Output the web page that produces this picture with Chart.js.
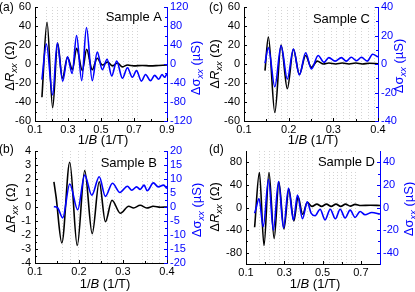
<!DOCTYPE html>
<html><head><meta charset="utf-8">
<script src="https://cdn.jsdelivr.net/npm/chart.js@4.4.0/dist/chart.umd.min.js"></script>
<style>
html,body{margin:0;padding:0;background:#fff;width:415px;height:292px;overflow:hidden}
#wrap{position:relative;width:415px;height:292px}
canvas{position:absolute;left:0;top:0}
</style>
</head><body><div id="wrap"></div>
<script>
// ================= DATA =================
// Panel (a) Sample A
const A_R_X = [0.142,0.173,0.207,0.237,0.266,0.297,0.327,0.352,0.387,0.413,0.447,0.477,0.508,0.54,0.57,0.6,0.63,0.66,0.7,0.75,0.8,0.85,0.9];
const A_R_Y = [-35,44,-46,22,-15,7,-6,16.5,-7,15.5,-6,6,-1,2,-2,1,-3,-1,-2,-1.5,-2,-1.5,-1];
const A_S_X = [0.142,0.169,0.207,0.235,0.268,0.297,0.325,0.352,0.383,0.412,0.447,0.477,0.508,0.537,0.565,0.595,0.63,0.66,0.69,0.715,0.745,0.77,0.8,0.825,0.85,0.87,0.885,0.9];
const A_S_Y = [-33,42,-65,44,-36,15,-20,60,-35,77,-35,25,-12,10,-25,6,-30,-8,-28,-14,-36,-22,-35,-24,-32,-22,-28,-20];
const A_LINES = [0.168,0.203,0.235,0.265,0.298,0.33,0.36,0.391,0.421,0.452,0.48,0.51,0.538,0.568,0.599,0.632,0.662,0.69,0.717];
const A_XTICKS = [0.1,0.3,0.5,0.7,0.9];
const A_LTICKS = [-60,-40,-20,0,20,40,60];
const A_RTICKS = [-120,-80,-40,0,40,80,120];

// Panel (b) Sample B
const B_R_X = [0.143,0.148,0.161,0.179,0.196,0.213,0.23,0.246,0.26,0.275,0.294,0.313,0.324,0.339,0.354,0.369,0.385,0.4];
const B_R_Y = [1.8,0.7,-2.56,3.2,-2.75,2.6,-1.9,1.8,-1.05,0.48,-0.45,0.05,-0.07,0.12,-0.07,0.05,-0.02,0];
const B_S_X = [0.143,0.152,0.163,0.179,0.197,0.213,0.229,0.246,0.26,0.276,0.293,0.31,0.32,0.331,0.339,0.348,0.355,0.369,0.38,0.392,0.4];
const B_S_Y = [0.2,-0.4,-3.9,8.2,-1,11.4,4.2,10.8,3.8,8.5,5.2,7.4,6.0,7.2,6.3,7.8,5.8,8.6,7.2,7.8,6.6];
const B_LINES = [0.162,0.18,0.197,0.214,0.23,0.247,0.263,0.279,0.296,0.343,0.355,0.367,0.381];
const B_XTICKS = [0.1,0.2,0.3,0.4];
const B_LTICKS = [-4,-3,-2,-1,0,1,2,3,4];
const B_RTICKS = [-20,-15,-10,-5,0,5,10,15,20];

// Panel (c) Sample C
const C_R_X = [0.147,0.1546,0.169,0.183,0.197,0.2106,0.224,0.238,0.2507,0.264,0.278,0.29,0.305,0.32,0.335,0.35,0.365,0.38,0.4];
const C_R_Y = [-7,28.5,-51,20,-26,15.5,-11,9,-3.5,3,0,1,0,1,0,1,0,0.8,0.3];
const C_S_X = [0.147,0.1546,0.169,0.183,0.197,0.2106,0.224,0.238,0.251,0.266,0.279,0.29,0.304,0.318,0.329,0.34,0.352,0.363,0.376,0.388,0.4];
const C_S_Y = [0.5,11.4,-16,12.8,-10.5,10.5,-7.7,7.9,-3.5,6,1.2,4.5,2,4.5,2,4.7,2.3,4.7,2,6.8,5];
const C_LINES = [0.1546,0.1694,0.1828,0.1972,0.2106,0.224,0.2381,0.252,0.266,0.28,0.294,0.307,0.321,0.335,0.349,0.363,0.377,0.391];
const C_XTICKS = [0.1,0.2,0.3,0.4];
const C_LTICKS = [-60,-40,-20,0,20,40,60];
const C_RTICKS = [-40,-20,0,20,40];

// Panel (d) Sample D
const D_R_X = [0.145,0.17,0.194,0.22,0.247,0.272,0.298,0.324,0.35,0.372,0.396,0.42,0.445,0.47,0.495,0.52,0.545,0.57,0.595,0.62,0.645,0.67,0.7,0.75,0.8];
const D_R_Y = [-35,62,-67,62,-55,45,-38,32,-24,19,-12,9,2,6,2,6,2,6,2,6,2.5,5.5,3.5,4,3.5];
const D_S_X = [0.145,0.152,0.168,0.19,0.218,0.243,0.27,0.296,0.322,0.348,0.369,0.395,0.42,0.44,0.461,0.487,0.513,0.54,0.567,0.592,0.618,0.644,0.67,0.696,0.722,0.757,0.8];
const D_S_Y = [-5,-1,8,-17,25,-20,23,-18,17,-11,11,-10,5,-5,-7.3,-1.5,-11,-1.5,-10,-1.5,-9.3,-2.3,-8.8,-3.5,-6.4,-4.4,-5.8];
const D_LINES = [0.169,0.195,0.221,0.247,0.273,0.3,0.322,0.348,0.37,0.395,0.421,0.445,0.506,0.532,0.553,0.576,0.598,0.624,0.649,0.671];
const D_XTICKS = [0.1,0.3,0.5,0.7];
const D_LTICKS = [-80,-40,0,40,80];
const D_RTICKS = [-40,-20,0,20,40];

// ================= STYLE / LAYOUT =================
const FONT = '"Liberation Sans", Arial, Helvetica, sans-serif';
const BLUE = '#0000ff';
const YL_TITLE = [{t:'\u0394'},{t:'R',it:1},{t:'xx',it:1,sub:1},{t:' (\u03A9)'}];
const YR_TITLE = [{t:'\u0394\u03C3'},{t:'xx',it:1,sub:1},{t:' (\u00B5S)'}];
const X_TITLE = [{t:'1/'},{t:'B',it:1},{t:' (1/T)'}];

const PANELS = [
  {id:'a', tag:'(a)', sample:'Sample A', area:{l:35,r:167,t:7,b:121},
   x:[0.1,0.9], yl:[-60,60], yr:[-120,120], xt:A_XTICKS, lt:A_LTICKS, rt:A_RTICKS,
   rx:A_R_X, ry:A_R_Y, sx:A_S_X, sy:A_S_Y, lines:A_LINES,
   pos:{tag:[-1,8], sample:[162,16], yl:[9,66], yr:[195,68], xt:[103,139]}},
  {id:'c', tag:'(c)', sample:'Sample C', area:{l:244,r:378,t:7,b:121},
   x:[0.1,0.4], yl:[-60,60], yr:[-40,40], xt:C_XTICKS, lt:C_LTICKS, rt:C_RTICKS,
   rx:C_R_X, ry:C_R_Y, sx:C_S_X, sy:C_S_Y, lines:C_LINES,
   pos:{tag:[209,8], sample:[370,18], yl:[214,64], yr:[398,66], xt:[313,139]}},
  {id:'b', tag:'(b)', sample:'Sample B', area:{l:35,r:167,t:151,b:263},
   x:[0.1,0.4], yl:[-4,4], yr:[-20,20], xt:B_XTICKS, lt:B_LTICKS, rt:B_RTICKS,
   rx:B_R_X, ry:B_R_Y, sx:B_S_X, sy:B_S_Y, lines:B_LINES,
   pos:{tag:[-1,150], sample:[157,162], yl:[10,208], yr:[196,210], xt:[105,283]}},
  {id:'d', tag:'(d)', sample:'Sample D', area:{l:246,r:380,t:151,b:264},
   x:[0.1,0.8], yl:[-100,100], yr:[-50,50], xt:D_XTICKS, lt:D_LTICKS, rt:D_RTICKS,
   rx:D_R_X, ry:D_R_Y, sx:D_S_X, sy:D_S_Y, lines:D_LINES,
   pos:{tag:[209,150], sample:[375,161], yl:[214,207], yr:[408,209], xt:[315,283]}}
];

Chart.defaults.font.family = FONT;

function zip(xs, ys){ return xs.map((x,i)=>({x:x, y:ys[i]})); }
function mids(a){ const m=[]; for(let i=0;i<a.length-1;i++) m.push((a[i]+a[i+1])/2); return m; }

function richText(ctx, segs, x, y, rot, size, color){
  ctx.save();
  ctx.translate(x, y);
  ctx.rotate(rot);
  ctx.fillStyle = color;
  ctx.textBaseline = 'alphabetic';
  ctx.textAlign = 'left';
  let w = 0;
  const parts = segs.map(s=>{
    const sz = s.sub ? size*0.72 : size;
    const f = (s.it ? 'italic ' : '') + sz.toFixed(1) + 'px ' + FONT;
    ctx.font = f;
    const m = ctx.measureText(s.t).width;
    w += m;
    return {s, f, m};
  });
  let cx = -w/2;
  const base = size*0.36;
  parts.forEach(p=>{
    ctx.font = p.f;
    ctx.fillText(p.s.t, cx, base + (p.s.sub ? size*0.28 : 0));
    cx += p.m;
  });
  ctx.restore();
}

function marks(ctx, scale, vals, len, color, side, ca){
  ctx.strokeStyle = color; ctx.lineWidth = 1;
  vals.forEach(v=>{
    const px = Math.round(scale.getPixelForValue(v)) + 0.5;
    ctx.beginPath();
    if (side==='bottom'){ ctx.moveTo(px, ca.bottom); ctx.lineTo(px, ca.bottom-len); }
    else if (side==='left'){ ctx.moveTo(ca.left, px); ctx.lineTo(ca.left+len, px); }
    else { ctx.moveTo(ca.right, px); ctx.lineTo(ca.right-len, px); }
    ctx.stroke();
  });
}

function deco(p){
  return {
    id:'deco_'+p.id,
    beforeDatasetsDraw(chart){
      const {ctx, chartArea:ca, scales} = chart;
      ctx.save();
      ctx.strokeStyle = '#d4d4d4'; ctx.lineWidth = 1; ctx.setLineDash([1,2]);
      p.lines.forEach(v=>{
        const x = Math.round(scales.x.getPixelForValue(v)) + 0.5;
        ctx.beginPath(); ctx.moveTo(x, ca.top); ctx.lineTo(x, ca.bottom); ctx.stroke();
      });
      ctx.restore();
    },
    afterDatasetsDraw(chart){
      const ctx = chart.ctx;
      ctx.save();
      ctx.font = '13px ' + FONT;
      const w = ctx.measureText(p.sample).width;
      const [sx, sy] = p.pos.sample;
      ctx.fillStyle = '#fff';
      ctx.fillRect(sx - w - 3, sy - 9, w + 6, 18);
      ctx.fillStyle = '#000'; ctx.textAlign = 'right'; ctx.textBaseline = 'middle';
      ctx.fillText(p.sample, sx, sy + 1);
      ctx.restore();
    },
    afterDraw(chart){
      const {ctx, chartArea:ca, scales} = chart;
      ctx.save();
      marks(ctx, scales.x, p.xt, 3, '#000', 'bottom', ca);
      marks(ctx, scales.x, mids(p.xt), 2, '#000', 'bottom', ca);
      marks(ctx, scales.yL, p.lt, 3, '#000', 'left', ca);
      marks(ctx, scales.yL, mids(p.lt), 2, '#000', 'left', ca);
      marks(ctx, scales.yR, p.rt, 3, BLUE, 'right', ca);
      marks(ctx, scales.yR, mids(p.rt), 2, BLUE, 'right', ca);
      richText(ctx, YL_TITLE, p.pos.yl[0], p.pos.yl[1], -Math.PI/2, 13, '#000');
      richText(ctx, YR_TITLE, p.pos.yr[0], p.pos.yr[1], -Math.PI/2, 13, BLUE);
      richText(ctx, X_TITLE, p.pos.xt[0], p.pos.xt[1], 0, 13, '#000');
      ctx.font = '12px ' + FONT; ctx.fillStyle = '#000';
      ctx.textAlign = 'left'; ctx.textBaseline = 'middle';
      ctx.fillText(p.tag, p.pos.tag[0], p.pos.tag[1]);
      ctx.restore();
    }
  };
}

function setTicks(arr){ return s => { s.ticks = arr.map(v=>({value:v})); }; }

function makePanel(p){
  const cv = document.createElement('canvas');
  cv.width = 415; cv.height = 292;
  cv.style.width = '415px'; cv.style.height = '292px';
  document.getElementById('wrap').appendChild(cv);
  const AXW = 30, AXH = 18;
  const tickFont = {size: 11, family: FONT};
  new Chart(cv, {
    type: 'line',
    data: { datasets: [
      {label:'sigma', data: zip(p.sx, p.sy), yAxisID:'yR', borderColor: BLUE, borderWidth: 1.6,
       pointRadius: 0, cubicInterpolationMode:'monotone', fill:false, order:0},
      {label:'R', data: zip(p.rx, p.ry), yAxisID:'yL', borderColor:'#000', borderWidth: 1.6,
       pointRadius: 0, cubicInterpolationMode:'monotone', fill:false, order:1}
    ]},
    options: {
      responsive:false, animation:false, devicePixelRatio:1,
      events: [],
      layout: {padding: {left: p.area.l - AXW, right: 415 - p.area.r - AXW, top: p.area.t, bottom: 292 - p.area.b - AXH}},
      plugins: {legend:{display:false}, tooltip:{enabled:false}},
      scales: {
        x: {type:'linear', position:'bottom', min:p.x[0], max:p.x[1],
            afterBuildTicks: setTicks(p.xt),
            afterFit: s => { s.height = AXH; s.paddingLeft = 0; s.paddingRight = 0; },
            ticks: {font: tickFont, color:'#000', padding: 2, autoSkip:false, maxRotation:0, minRotation:0},
            grid: {display:true, drawOnChartArea:false, drawTicks:false},
            border: {display:true, color:'#000', width:1}},
        yL: {type:'linear', position:'left', min:p.yl[0], max:p.yl[1],
            afterBuildTicks: setTicks(p.lt),
            afterFit: s => { s.width = AXW; s.paddingTop = 0; s.paddingBottom = 0; },
            ticks: {font: tickFont, color:'#000', padding: 4, autoSkip:false},
            grid: {display:true, drawOnChartArea:false, drawTicks:false},
            border: {display:true, color:'#000', width:1}},
        yR: {type:'linear', position:'right', min:p.yr[0], max:p.yr[1],
            afterBuildTicks: setTicks(p.rt),
            afterFit: s => { s.width = AXW; s.paddingTop = 0; s.paddingBottom = 0; },
            ticks: {font: tickFont, color: BLUE, padding: 3, autoSkip:false},
            grid: {display:true, drawOnChartArea:false, drawTicks:false},
            border: {display:true, color: BLUE, width:1}}
      }
    },
    plugins: [deco(p)]
  });
}

PANELS.forEach(makePanel);
</script>
</body></html>
